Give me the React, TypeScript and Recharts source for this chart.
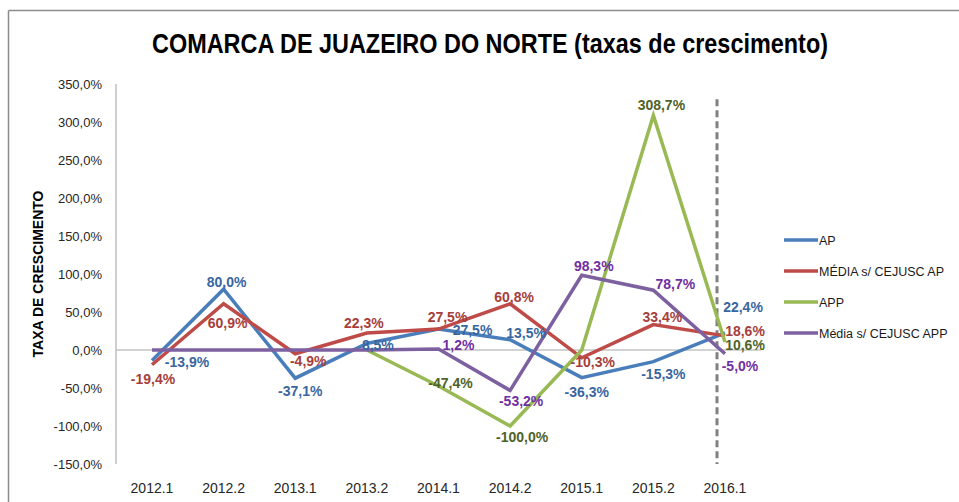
import React from 'react';
import { LineChart, Line, XAxis, YAxis, ReferenceLine, LabelList } from 'recharts';

const categories = ['2012.1', '2012.2', '2013.1', '2013.2', '2014.1', '2014.2', '2015.1', '2015.2', '2016.1'];
const apValues = [-13.9, 80.0, -37.1, 8.5, 27.5, 13.5, -36.3, -15.3, 22.4];
const mediaApValues = [-19.4, 60.9, -4.9, 22.3, 27.5, 60.8, -10.3, 33.4, 18.6];
const appValues: (number | null)[] = [null, null, null, 0, -47.4, -100.0, 0, 308.7, 10.6];
const mediaAppValues = [0, 0, 0, 0, 1.2, -53.2, 98.3, 78.7, -5.0];
const yTicks = [-150, -100, -50, 0, 50, 100, 150, 200, 250, 300, 350];

// label placement (offset of label centre from the point), style info only
const apLabelOffsets = [[35, 1], [3, -7], [5, 13], [11, 1], [34, 1], [16, -7], [5, 14], [10, 12], [18, -26]];
const mediaApLabelOffsets = [[1, 14], [4, 19], [13, 7], [-3, -10], [9, -12], [4, -7], [11, 4], [9, -8], [20, -5]];
const appLabelOffsets = [null, null, null, null, [12, -3], [12, 11], null, [8, -10], [20, 3]];
const mediaAppLabelOffsets = [null, null, null, null, [20, -4], [11, 11], [12, -9], [22, -6], [15, 12]];

const data = categories.map((c, i) => ({
  cat: c,
  ap: apValues[i],
  mediaAp: mediaApValues[i],
  app: appValues[i],
  mediaApp: mediaAppValues[i],
}));

const series = [
  { key: 'ap', name: 'AP', color: '#4A7EBB', labelColor: '#3A66A0', offsets: apLabelOffsets },
  { key: 'mediaAp', name: 'MÉDIA s/ CEJUSC AP', color: '#BE4B48', labelColor: '#A63E3B', offsets: mediaApLabelOffsets },
  { key: 'app', name: 'APP', color: '#98B954', labelColor: '#4F6228', offsets: appLabelOffsets },
  { key: 'mediaApp', name: 'Média s/ CEJUSC APP', color: '#7D60A0', labelColor: '#7030A0', offsets: mediaAppLabelOffsets },
];

const FONT = '"Liberation Sans", Arial, sans-serif';
const fmt = (v: number) => `${v.toFixed(1).replace('.', ',')}%`;

const makeLabel = (offsets: (number[] | null)[], color: string) => (props: any) => {
  const { x, y, value, index } = props;
  const off = offsets[index];
  if (!off || value === null || value === undefined) return null;
  return (
    <text
      x={x + off[0]}
      y={y + off[1]}
      dy="0.36em"
      textAnchor="middle"
      fontFamily={FONT}
      fontSize={14}
      fontWeight="bold"
      fill={color}
    >
      {fmt(Number(value))}
    </text>
  );
};

export default function App() {
  return (
    <div style={{ position: 'absolute', left: 0, top: 0, width: 959, height: 502, background: '#fff' }}>
      <LineChart
        width={959}
        height={502}
        data={data}
        margin={{ top: 84, right: 198, bottom: 0, left: 0 }}
      >
        <XAxis
          dataKey="cat"
          axisLine={false}
          tickLine={false}
          height={38}
          tickMargin={13}
          padding={{ left: 36, right: 36 }}
          tick={{ fontSize: 14, fill: '#262626', fontFamily: FONT }}
          interval={0}
        />
        <YAxis
          width={116}
          domain={[-150, 350]}
          ticks={yTicks}
          type="number"
          allowDataOverflow
          tickFormatter={fmt}
          tickLine={false}
          tickMargin={8}
          axisLine={{ stroke: '#BFBFBF', strokeWidth: 1.5 }}
          tick={{ fontSize: 13, fill: '#262626', fontFamily: FONT }}
        />
        <ReferenceLine y={0} stroke="#A6A6A6" strokeWidth={1} />
        <ReferenceLine
          segment={[{ x: '2016.1', y: 330 }, { x: '2016.1', y: -150 }]}
          ifOverflow="visible"
          shape={(p: any) => (
            <line
              x1={p.x1 - 8}
              y1={p.y1}
              x2={p.x2 - 8}
              y2={p.y2}
              stroke="#808080"
              strokeWidth={3}
              strokeDasharray="7 4"
            />
          )}
        />
        {series.map((s) => (
          <Line
            key={s.key}
            dataKey={s.key}
            name={s.name}
            stroke={s.color}
            strokeWidth={3.5}
            dot={false}
            activeDot={false}
            isAnimationActive={false}
            connectNulls={false}
            strokeLinejoin="miter"
          >
            <LabelList dataKey={s.key} content={makeLabel(s.offsets, s.labelColor)} />
          </Line>
        ))}
      </LineChart>
      <svg
        width={959}
        height={502}
        style={{ position: 'absolute', left: 0, top: 0, pointerEvents: 'none' }}
      >
        <line x1={8.5} y1={10.5} x2={959} y2={10.5} stroke="#8C8C8C" strokeWidth={1.5} />
        <line x1={8.5} y1={10.5} x2={8.5} y2={502} stroke="#8C8C8C" strokeWidth={1.5} />
        <text
          x={490}
          y={53}
          textAnchor="middle"
          fontFamily={FONT}
          fontSize={27}
          fontWeight="bold"
          fill="#000"
          textLength={676}
          lengthAdjust="spacingAndGlyphs"
        >
          COMARCA DE JUAZEIRO DO NORTE (taxas de crescimento)
        </text>
        <text
          x={0}
          y={0}
          transform="translate(43 274) rotate(-90)"
          textAnchor="middle"
          fontFamily={FONT}
          fontSize={14}
          fontWeight="bold"
          fill="#000"
        >
          TAXA DE CRESCIMENTO
        </text>
        {series.map((s, i) => (
          <g key={s.key}>
            <line x1={784} x2={818} y1={240 + i * 31} y2={240 + i * 31} stroke={s.color} strokeWidth={3.5} />
            <text x={819} y={240 + i * 31} dy="0.36em" fontFamily={FONT} fontSize={12.5} fill="#1a1a1a">
              {s.name}
            </text>
          </g>
        ))}
      </svg>
    </div>
  );
}
